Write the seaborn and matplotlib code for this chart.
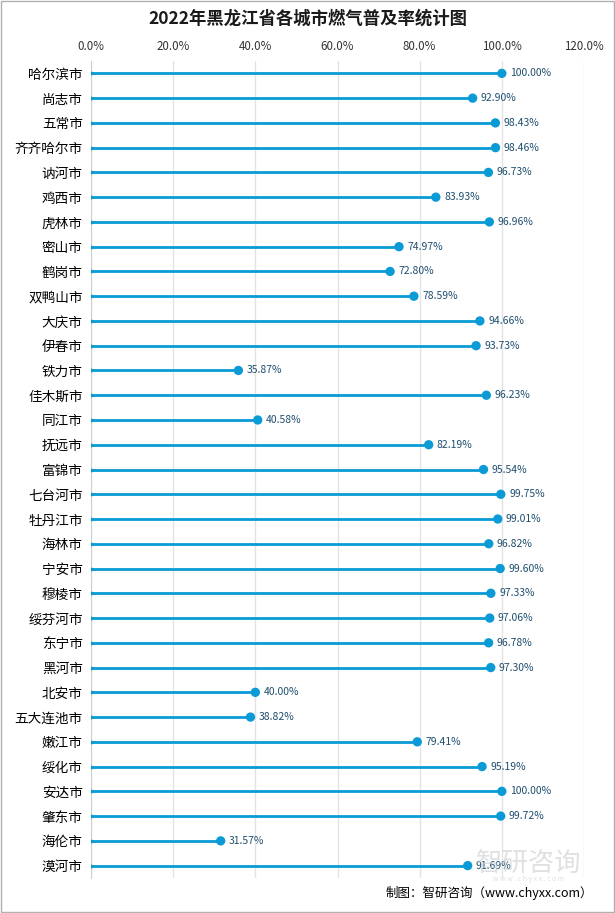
import matplotlib
matplotlib.use("Agg")
import matplotlib.pyplot as plt
import seaborn as sns
import pandas as pd
from matplotlib.ticker import FuncFormatter

cities = ["哈尔滨市", "尚志市", "五常市", "齐齐哈尔市", "讷河市", "鸡西市", "虎林市", "密山市",
          "鹤岗市", "双鸭山市", "大庆市", "伊春市", "铁力市", "佳木斯市", "同江市", "抚远市",
          "富锦市", "七台河市", "牡丹江市", "海林市", "宁安市", "穆棱市", "绥芬河市", "东宁市",
          "黑河市", "北安市", "五大连池市", "嫩江市", "绥化市", "安达市", "肇东市", "海伦市", "漠河市"]
rates = [100.00, 92.90, 98.43, 98.46, 96.73, 83.93, 96.96, 74.97,
         72.80, 78.59, 94.66, 93.73, 35.87, 96.23, 40.58, 82.19,
         95.54, 99.75, 99.01, 96.82, 99.60, 97.33, 97.06, 96.78,
         97.30, 40.00, 38.82, 79.41, 95.19, 100.00, 99.72, 31.57, 91.69]
x_ticks = [0, 20, 40, 60, 80, 100, 120]

df = pd.DataFrame({"city": cities, "rate": rates})

sns.set_style("white")
plt.rcParams['font.family'] = ['Noto Sans CJK SC', 'DejaVu Sans']

blue = "#0a9bd6"
fig = plt.figure(figsize=(6.15, 9.13), dpi=100)
ax = fig.add_axes([91 / 615, 1 - 878 / 913, (584 - 91) / 615, (878 - 61) / 913])

ax.hlines(y=df["city"], xmin=0, xmax=df["rate"], color=blue, linewidth=2.0, zorder=3)
sns.scatterplot(data=df, x="rate", y="city", ax=ax, color=blue, s=45,
                edgecolor="none", zorder=4)
ax.scatter([0] * len(df), df["city"], marker=">", s=12, color=blue, zorder=4)

for i, v in enumerate(rates):
    ax.text(v + 2.0, i, f"{v:.2f}%", va="center", ha="left", fontsize=7.5,
            color="#1f4e6e", zorder=5)

ax.set_xlim(0, 120)
ax.set_ylim(len(cities) - 0.5, -0.5)
ax.set_xticks(x_ticks)
ax.xaxis.set_major_formatter(FuncFormatter(lambda v, p: f"{v:.1f}%"))
ax.xaxis.tick_top()
ax.tick_params(axis="x", length=0, labelsize=8.3, pad=6, colors="#333333")
ax.tick_params(axis="y", length=0, labelsize=9.8, pad=6)
for lbl in ax.get_yticklabels():
    lbl.set_color("black")
ax.grid(axis="x", color="#e3e3e3", linewidth=1)
ax.set_axisbelow(True)
for s in ["top", "right", "bottom"]:
    ax.spines[s].set_visible(False)
ax.spines["left"].set_color("#d0d0d0")
ax.set_xlabel("")
ax.set_ylabel("")

fig.text(0.5, 1 - 19 / 913, "2022年黑龙江省各城市燃气普及率统计图", ha="center", va="center",
         fontsize=12.5, fontweight="bold", color="#1a1a1a")

# watermark
fig.text(0.86, 1 - 863 / 913, "智研咨询", ha="center", va="center", fontsize=19,
         color="#c8ccd0", alpha=0.6, zorder=0)
fig.text(0.86, 1 - 879 / 913, "w w w . c h y x x . c o m", ha="center", va="center",
         fontsize=5, color="#c8ccd0", alpha=0.6, zorder=0)
fig.text(0.965, 1 - 893 / 913, "制图：智研咨询（www.chyxx.com）", ha="right", va="center",
         fontsize=9, color="black")

fig.patches.append(plt.Rectangle((0.001, 0.001), 0.998, 0.998, transform=fig.transFigure,
                                 fill=False, edgecolor="#b0b0b0", linewidth=1))

fig.savefig("out.png", dpi=100)
